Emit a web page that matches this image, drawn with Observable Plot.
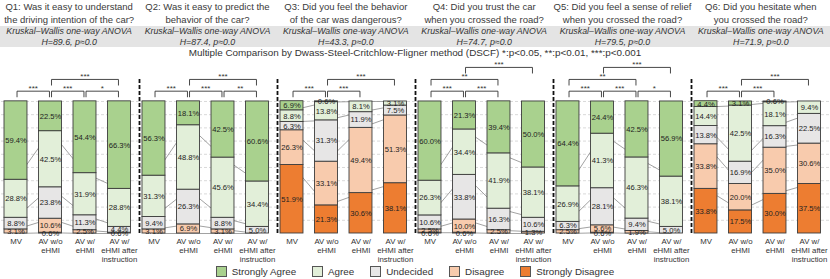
<!DOCTYPE html>
<html><head><meta charset="utf-8">
<script src="https://cdn.jsdelivr.net/npm/d3@7"></script>
<script src="https://cdn.jsdelivr.net/npm/@observablehq/plot@0.6"></script>
<style>
body{margin:0;font-family:"Liberation Sans",Arial,Helvetica,sans-serif;color:#333;background:#fff;width:830px;overflow:hidden}
.row{display:grid;grid-template-columns:repeat(6,1fr);width:830px}
.titles{height:26px;padding-top:1px;box-sizing:border-box}
.titles div{font-size:9.5px;line-height:12.5px;text-align:center;white-space:nowrap;color:#3a3a3a}
.kw{background:#e4e4e4;height:21px;padding-top:0px;box-sizing:border-box}
.kw div{font-style:italic;font-size:8.8px;line-height:10.5px;text-align:center;white-space:nowrap}
.mc{font-size:9.9px;height:11px;line-height:11px;text-align:center;width:830px}
#chart svg{display:block}
#legend{display:flex;justify-content:center;align-items:center;height:16px;font-size:9.8px;width:830px}
#legend .it{display:flex;align-items:center;margin:0 8px}
#legend .sw{width:11px;height:11px;border:1px solid #555;margin-right:5px;box-sizing:border-box}
</style></head>
<body>
<div class="row titles" id="titles"></div>
<div class="row kw" id="kw"></div>
<div class="mc" id="mc"></div>
<div id="chart"></div>
<div id="legend"></div>
<script>
const questions = ["Q1","Q2","Q3","Q4","Q5","Q6"];
const titleLine1 = ["Q1: Was it easy to understand","Q2: Was it easy to predict the","Q3: Did you feel the behavior","Q4: Did you trust the car","Q5: Did you feel a sense of relief","Q6: Did you hesitate when"];
const titleLine2 = ["the driving intention of the car?","behavior of the car?","of the car was dangerous?","when you crossed the road?","when you crossed the road?","you crossed the road?"];
const hValues = [89.6, 87.4, 43.3, 74.7, 79.5, 71.9];
const pValues = ["0.0","0.0","0.0","0.0","0.0","0.0"];
const comparisonNote = "Multiple Comparison by Dwass-Steel-Critchlow-Fligner method (DSCF) *:p<0.05, **:p<0.01, ***:p<0.001";

const conditions = ["MV","AV w/o eHMI","AV w/ eHMI","AV w/ eHMI after instruction"];
const conditionLabels = ["MV","AV w/o\neHMI","AV w/\neHMI","AV w/\neHMI after\ninstruction"];
const responses = ["Strongly Agree","Agree","Undecided","Disagree","Strongly Disagree"];
const responseColors = ["#a9d18e","#e2efd9","#e7e6e6","#f8cbad","#ed7d31"];

// per question: rows = conditions, columns = responses (SA, A, U, D, SD) in %
const q1 = [[59.4,28.8,8.8,3.1,0],[22.5,42.5,23.8,10.6,0.6],[54.4,31.9,11.3,2.5,0],[66.3,28.8,4.4,0.6,0]];
const q2 = [[56.3,31.3,9.4,3.1,0],[18.1,48.8,26.3,6.9,0],[42.5,45.6,8.8,3.1,0],[60.6,34.4,5.0,0,0]];
const q3 = [[6.9,8.8,6.3,26.3,51.9],[0.6,13.8,31.3,33.1,21.3],[0,8.1,11.9,49.4,30.6],[0,3.1,7.5,51.3,38.1]];
const q4 = [[60.0,26.3,10.6,2.5,0.6],[21.3,34.4,33.8,10.0,0.6],[39.4,41.9,16.3,2.5,0],[50.0,38.1,10.6,1.3,0]];
const q5 = [[64.4,26.9,6.3,2.5,0],[24.4,41.3,28.1,5.6,0.6],[42.5,46.3,9.4,1.9,0],[56.9,38.1,5.0,0,0]];
const q6 = [[4.4,14.4,13.8,33.8,33.8],[3.1,42.5,16.9,20.0,17.5],[0.6,18.1,16.3,35.0,30.0],[0,9.4,22.5,30.6,37.5]];
const questionData = [q1,q2,q3,q4,q5,q6];

// significance brackets: question, from condition, to condition, level (1 = lowest), label
const brackets = [
  ["Q1",0,1,1,"***"],["Q1",1,2,1,"***"],["Q1",2,3,1,"*"],["Q1",1,3,2,"***"],
  ["Q2",0,1,1,"***"],["Q2",1,2,1,"***"],["Q2",2,3,1,"**"],["Q2",1,3,2,"***"],
  ["Q3",0,1,1,"***"],["Q3",1,2,1,"***"],["Q3",1,3,2,"***"],
  ["Q4",0,1,1,"***"],["Q4",1,2,1,"***"],["Q4",0,2,2,"**"],["Q4",1,3,3,"***"],
  ["Q5",0,1,1,"***"],["Q5",1,2,1,"***"],["Q5",2,3,1,"*"],["Q5",0,2,2,"**"],["Q5",1,3,3,"***"],
  ["Q6",0,1,1,"***"],["Q6",1,2,1,"***"],["Q6",1,3,2,"***"]
];
const gridTicks = [10,20,30,40,50,60,70,80,90,100];

// ---- header ----
document.getElementById("titles").innerHTML = questions.map((q,i)=>`<div>${titleLine1[i]}<br>${titleLine2[i]}</div>`).join("");
document.getElementById("kw").innerHTML = questions.map((q,i)=>`<div>Kruskal\u2013Wallis one-way ANOVA<br>H=${hValues[i]}, p\u2248${pValues[i]}</div>`).join("");
document.getElementById("mc").textContent = comparisonNote;

// ---- derived tables ----
const stackOrder = [4,3,2,1,0]; // bottom to top: SD, D, U, A, SA
const segments = [];
const cumulative = {};
questions.forEach((q,qi)=>{
  cumulative[q] = [];
  questionData[qi].forEach((vals,ci)=>{
    let base = 0; const cum = [];
    stackOrder.forEach(ri=>{
      const v = vals[ri];
      segments.push({q, ci, response: responses[ri], value: v, y1: base, y2: base+v});
      base += v; cum.push(base);
    });
    cumulative[q].push(cum);
  });
});
const seriesLines = [];
questions.forEach(q=>{
  for (let ci=0; ci<3; ci++) for (let k=0; k<4; k++)
    seriesLines.push({q, x1: ci, x2: ci+1, y1: cumulative[q][ci][k], y2: cumulative[q][ci+1][k]});
});
const levelY = {1:107.8, 2:116.7, 3:125.8};
const legLen = 4.6;
const bracketRows = brackets.map(([q,a,b,l,t])=>({q, a: a+0.03, b: b-0.03, y: levelY[l], label: t, mid:(a+b)/2}));
const legs = bracketRows.flatMap(d=>[{q:d.q,x:d.a,y1:d.y,y2:d.y-legLen},{q:d.q,x:d.b,y1:d.y,y2:d.y-legLen}]);

const xDomain = [-0.42, 3.58];
const yDomain = [0, 117.4];
const half = 0.333;

const chart = Plot.plot({
  width: 830, height: 205,
  marginLeft: 0, marginRight: 0, marginTop: 20, marginBottom: 30,
  style: {fontFamily: '"Liberation Sans", Arial, sans-serif', color: "#333"},
  fx: {domain: questions, padding: 0, axis: null},
  x: {domain: xDomain, axis: null},
  y: {domain: yDomain, axis: null},
  color: {domain: responses, range: responseColors},
  marks: [
    Plot.ruleY(gridTicks, {y: d=>d, stroke: "#cfcfcf", strokeDasharray: "3,2", strokeWidth: 0.8}),
    Plot.link(seriesLines, {fx: "q", x1: "x1", x2: "x2", y1: "y1", y2: "y2", stroke: "#8a8a8a", strokeWidth: 0.8}),
    Plot.rect(segments, {fx: "q", x1: d=>d.ci-half, x2: d=>d.ci+half, y1: "y1", y2: "y2", fill: "response", stroke: "#3c3c3c", strokeWidth: 0.9}),
    Plot.text(segments.filter(d=>d.value>0), {fx: "q", x: "ci", y: d=>(d.y1+d.y2)/2, text: d=>d.value.toFixed(1)+"%", fontSize: 7.6, fill: "#222"}),
    Plot.axisX({ticks: [0,1,2,3], tickFormat: i=>conditionLabels[i], tickSize: 0, tickPadding: 4, fontSize: 7.8, lineHeight: 1.15, fill: "#333"}),
    Plot.link(bracketRows, {fx: "q", x1: "a", x2: "b", y1: "y", y2: "y", stroke: "#333", strokeWidth: 0.9}),
    Plot.link(legs, {fx: "q", x1: "x", x2: "x", y1: "y1", y2: "y2", stroke: "#333", strokeWidth: 0.9}),
    Plot.text(bracketRows, {fx: "q", x: "mid", y: "y", text: "label", fontSize: 8, dy: -3, fill: "#333"}),
    Plot.ruleX(questions.slice(0,5), {fx: d=>d, x: ()=>xDomain[1], y1: ()=>0, y2: ()=>yDomain[1], stroke: "#111", strokeWidth: 1.8, strokeDasharray: "4,2"})
  ]
});
document.getElementById("chart").appendChild(chart);

document.getElementById("legend").innerHTML = responses.map((r,i)=>`<div class="it"><div class="sw" style="background:${responseColors[i]}"></div>${r}</div>`).join("");
</script>
</body></html>
